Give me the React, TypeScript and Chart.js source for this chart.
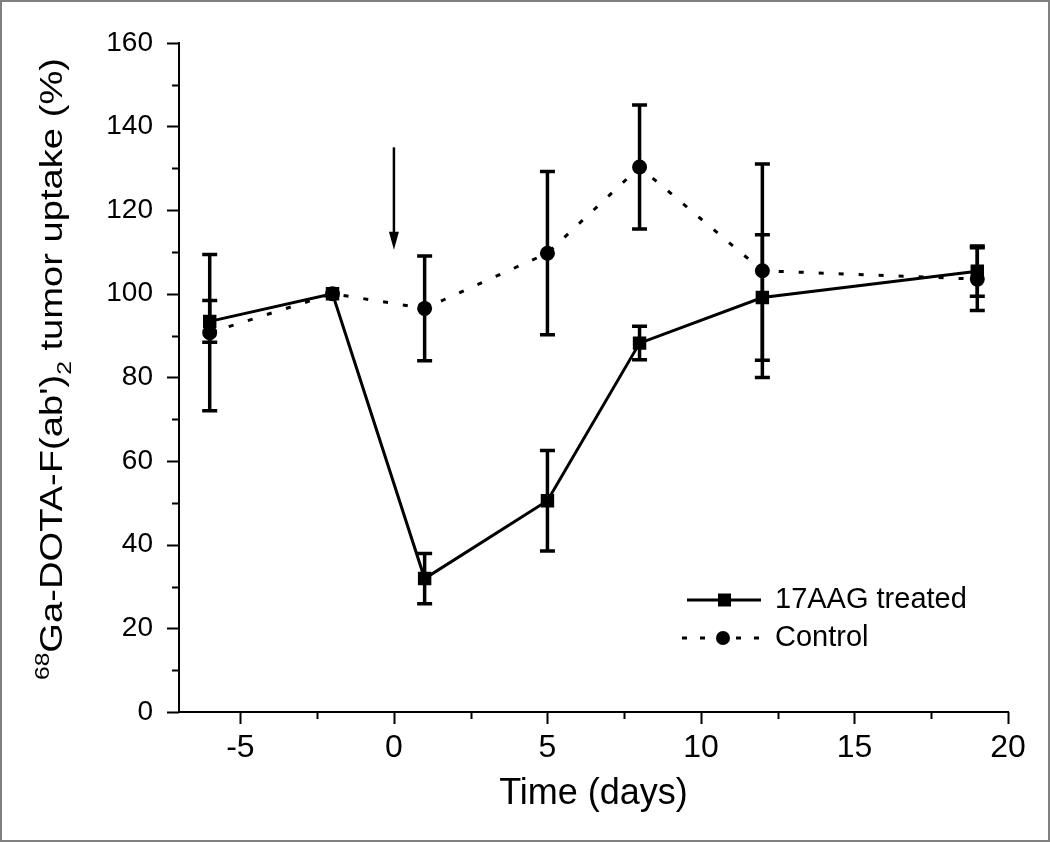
import React, { useEffect, useRef } from "react";
import { Chart, registerables } from "chart.js";

Chart.register(...registerables);

// ---- data ----
const days = [-6, -2, 1, 5, 8, 12, 19];
const treated = [93.4, 100, 31.9, 50.5, 88.2, 99.1, 105.4];
const treatedErr = [5, 0, 6, 12, 4, 15, 6];
const control = [90.7, 100, 96.5, 109.7, 130.3, 105.5, 103.5];
const controlErr = [18.7, 0, 12.5, 19.5, 14.8, 25.5, 7.5];
const seriesLabels = ["17AAG treated", "Control"];

const xTicks = [-5, 0, 5, 10, 15, 20];
const xMinorTicks = [-2.5, 2.5, 7.5, 12.5, 17.5];
const yTicks = [0, 20, 40, 60, 80, 100, 120, 140, 160];
const yMinorTicks = [10, 30, 50, 70, 90, 110, 130, 150];

const arrowDay = 0;
const arrowFrom = 135;
const arrowTo = 110.5;

const SANS = "'Liberation Sans', Arial, sans-serif";
const NARROW = "'Liberation Sans Narrow', 'Liberation Sans', Arial, sans-serif";

const customPlugin = {
  id: "custom",
  beforeDatasetsDraw(chart: any) {
    const { ctx } = chart;
    const xs = chart.scales.x;
    const ys = chart.scales.y;
    ctx.save();
    ctx.strokeStyle = "#000";
    ctx.lineWidth = 3.5;
    const drawBars = (vals: number[], errs: number[]) => {
      vals.forEach((v, i) => {
        if (!errs[i]) return;
        const px = xs.getPixelForValue(days[i]);
        const top = ys.getPixelForValue(v + errs[i]);
        const bot = ys.getPixelForValue(v - errs[i]);
        ctx.beginPath();
        ctx.moveTo(px, top);
        ctx.lineTo(px, bot);
        ctx.moveTo(px - 7.5, top);
        ctx.lineTo(px + 7.5, top);
        ctx.moveTo(px - 7.5, bot);
        ctx.lineTo(px + 7.5, bot);
        ctx.stroke();
      });
    };
    drawBars(control, controlErr);
    drawBars(treated, treatedErr);
    ctx.restore();
  },
  afterDraw(chart: any) {
    const { ctx, chartArea } = chart;
    const xs = chart.scales.x;
    const ys = chart.scales.y;
    ctx.save();
    ctx.strokeStyle = "#000";
    ctx.lineWidth = 2;
    // axis ticks (outward)
    ctx.beginPath();
    yTicks.forEach((v) => {
      const py = Math.round(ys.getPixelForValue(v)) + 0.5;
      ctx.moveTo(chartArea.left - 12, py);
      ctx.lineTo(chartArea.left, py);
    });
    yMinorTicks.forEach((v) => {
      const py = Math.round(ys.getPixelForValue(v)) + 0.5;
      ctx.moveTo(chartArea.left - 7, py);
      ctx.lineTo(chartArea.left, py);
    });
    xTicks.forEach((v) => {
      const px = Math.round(xs.getPixelForValue(v)) + 0.5;
      ctx.moveTo(px, chartArea.bottom);
      ctx.lineTo(px, chartArea.bottom + 12);
    });
    xMinorTicks.forEach((v) => {
      const px = Math.round(xs.getPixelForValue(v)) + 0.5;
      ctx.moveTo(px, chartArea.bottom);
      ctx.lineTo(px, chartArea.bottom + 7);
    });
    ctx.stroke();

    // arrow
    const ax = xs.getPixelForValue(arrowDay);
    const ay1 = ys.getPixelForValue(arrowFrom);
    const ay2 = ys.getPixelForValue(arrowTo);
    ctx.lineWidth = 2.5;
    ctx.beginPath();
    ctx.moveTo(ax, ay1);
    ctx.lineTo(ax, ay2 - 12);
    ctx.stroke();
    ctx.fillStyle = "#000";
    ctx.beginPath();
    ctx.moveTo(ax - 5, ay2 - 18);
    ctx.lineTo(ax + 5, ay2 - 18);
    ctx.lineTo(ax, ay2);
    ctx.closePath();
    ctx.fill();

    // y-axis title with superscript/subscript
    const pieces = [
      { t: "68", f: `20px ${SANS}`, dy: -13 },
      { t: "Ga-DOTA-F(ab')", f: `31px ${SANS}`, dy: 0 },
      { t: "2", f: `20px ${SANS}`, dy: 9 },
      { t: " tumor uptake (%)", f: `31px ${SANS}`, dy: 0 },
    ];
    let total = 0;
    const widths = pieces.map((p) => {
      ctx.font = p.f;
      const w = ctx.measureText(p.t).width;
      total += w;
      return w;
    });
    const targetLen = 622;
    const stretch = targetLen / total;
    ctx.save();
    ctx.translate(62, 369);
    ctx.rotate(-Math.PI / 2);
    ctx.scale(stretch, 1);
    ctx.fillStyle = "#000";
    ctx.textBaseline = "alphabetic";
    ctx.textAlign = "left";
    let cx = -total / 2;
    pieces.forEach((p, i) => {
      ctx.font = p.f;
      ctx.fillText(p.t, cx, p.dy);
      cx += widths[i];
    });
    ctx.restore();

    // legend
    const legendRows = [
      { label: seriesLabels[0], y: 600, dash: [] as number[], style: "rect" },
      { label: seriesLabels[1], y: 638, dash: [5, 13], style: "circle" },
    ];
    legendRows.forEach((r) => {
      ctx.save();
      ctx.strokeStyle = "#000";
      ctx.lineWidth = 3;
      ctx.setLineDash(r.dash);
      ctx.beginPath();
      if (r.style === "rect") {
        ctx.moveTo(687, r.y);
        ctx.lineTo(761, r.y);
      } else {
        ctx.moveTo(682, r.y);
        ctx.lineTo(761, r.y);
      }
      ctx.stroke();
      ctx.restore();
      ctx.fillStyle = "#000";
      if (r.style === "rect") {
        ctx.fillRect(718, r.y - 6.5, 13, 13);
      } else {
        ctx.beginPath();
        ctx.arc(723, r.y, 7, 0, Math.PI * 2);
        ctx.fill();
      }
      ctx.font = `29px ${SANS}`;
      ctx.textBaseline = "middle";
      ctx.textAlign = "left";
      ctx.fillText(r.label, 775, r.y);
    });

    // frame
    ctx.strokeStyle = "#808080";
    ctx.lineWidth = 2;
    ctx.setLineDash([]);
    ctx.strokeRect(1, 1, chart.width - 2, chart.height - 2);
    ctx.restore();
  },
};

export default function App() {
  const ref = useRef<HTMLCanvasElement | null>(null);
  useEffect(() => {
    if (!ref.current) return;
    const chart = new Chart(ref.current, {
      type: "line",
      data: {
        datasets: [
          {
            label: seriesLabels[0],
            data: days.map((d, i) => ({ x: d, y: treated[i] })),
            borderColor: "#000",
            backgroundColor: "#000",
            borderWidth: 3,
            pointStyle: "rect",
            pointRadius: 9.5,
            pointBorderWidth: 0,
            pointBackgroundColor: "#000",
            tension: 0,
            order: 1,
          },
          {
            label: seriesLabels[1],
            data: days.map((d, i) => ({ x: d, y: control[i] })),
            borderColor: "#000",
            backgroundColor: "#000",
            borderWidth: 3,
            borderDash: [5, 15],
            pointStyle: "circle",
            pointRadius: 7.5,
            pointBorderWidth: 0,
            pointBackgroundColor: "#000",
            tension: 0,
            order: 2,
          },
        ],
      },
      options: {
        animation: false,
        responsive: false,
        devicePixelRatio: 1,
        layout: { padding: { top: 38, right: 42, left: 0, bottom: 0 } },
        plugins: {
          legend: { display: false },
          tooltip: { enabled: false },
          title: { display: false },
        },
        scales: {
          x: {
            type: "linear",
            min: -7,
            max: 20,
            afterBuildTicks: (s: any) => {
              s.ticks = xTicks.map((v) => ({ value: v }));
            },
            afterFit: (s: any) => {
              s.height = 130;
            },
            grid: { display: false, drawTicks: false, tickLength: 0 },
            border: { display: true, color: "#000", width: 2 },
            ticks: {
              color: "#000",
              font: { family: NARROW, size: 32 },
              padding: 17,
              maxRotation: 0,
              autoSkip: false,
            },
            title: {
              display: true,
              text: "Time (days)",
              color: "#000",
              font: { family: SANS, size: 36 },
              padding: { top: 0, bottom: 26 },
            },
          },
          y: {
            type: "linear",
            min: 0,
            max: 160,
            afterBuildTicks: (s: any) => {
              s.ticks = yTicks.map((v) => ({ value: v }));
            },
            afterFit: (s: any) => {
              s.width = 179;
            },
            grid: { display: false, drawTicks: false, tickLength: 0 },
            border: { display: true, color: "#000", width: 2 },
            ticks: {
              color: "#000",
              font: { family: SANS, size: 28 },
              padding: 26,
              autoSkip: false,
            },
          },
        },
      },
      plugins: [customPlugin],
    });
    return () => chart.destroy();
  }, []);
  return (
    <div style={{ position: "fixed", left: 0, top: 0, width: 1050, height: 842, background: "#fff" }}>
      <canvas ref={ref} width={1050} height={842} style={{ display: "block" }} />
    </div>
  );
}
